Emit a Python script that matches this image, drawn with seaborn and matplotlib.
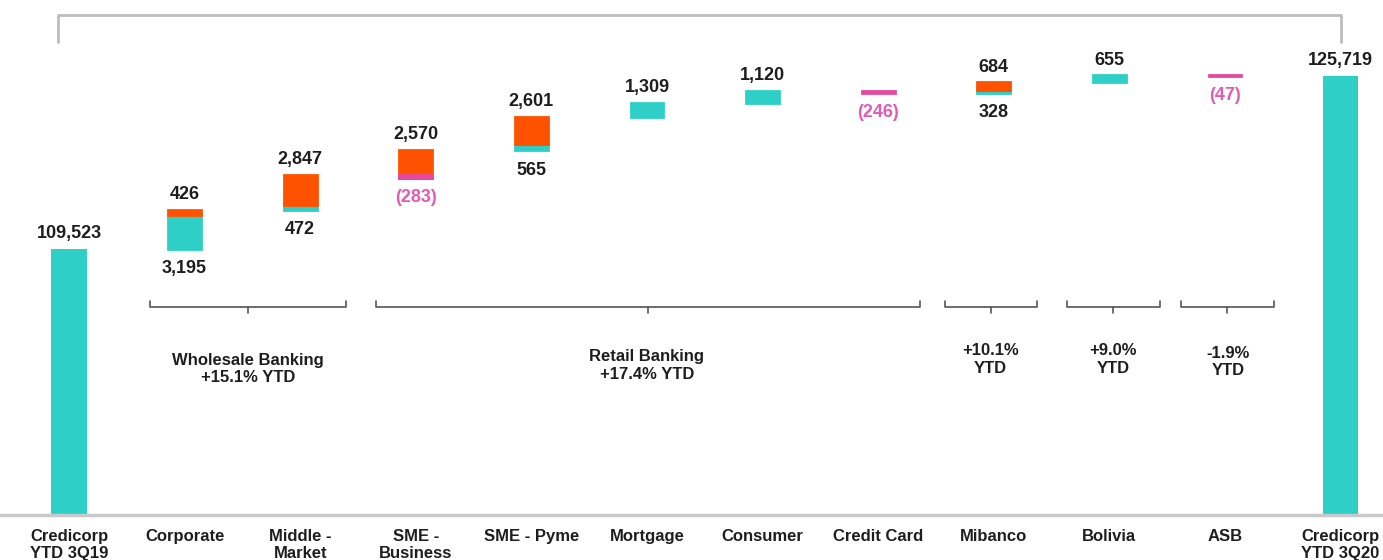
import pandas as pd
import seaborn as sns
import matplotlib.pyplot as plt
import matplotlib.transforms as mtransforms

categories = ['Credicorp\nYTD 3Q19', 'Corporate', 'Middle -\nMarket', 'SME -\nBusiness', 'SME - Pyme',
              'Mortgage', 'Consumer', 'Credit Card', 'Mibanco', 'Bolivia', 'ASB', 'Credicorp\nYTD 3Q20']
start_total = 109523
end_total = 125719
# variations for Corporate .. ASB
teal_vals = [3195, 472, 0, 565, 1309, 1120, 0, 328, 655, 0]
orange_vals = [426, 2847, 2570, 2601, 0, 0, 0, 684, 0, 0]
pink_vals = [0, 0, -283, 0, 0, 0, -246, 0, 0, -47]

groups = ['Wholesale Banking\n+15.1% YTD', 'Retail Banking\n+17.4% YTD', '+10.1%\nYTD', '+9.0%\nYTD', '-1.9%\nYTD']

TEAL = '#2ECFC6'
ORANGE = '#FF5200'
PINK = '#E5489E'
PINK_TXT = '#E15BB3'
DARK = '#1E1E1E'

sns.set_style('white')
plt.rcParams['font.family'] = ['Liberation Sans', 'DejaVu Sans']

# build floating segments
rows = []
labels = []  # (x, y, text, above, color)
level = start_total
for i, (t, o, p) in enumerate(zip(teal_vals, orange_vals, pink_vals)):
    cat = categories[i + 1]
    if p:
        rows.append(('pink', cat, -p, level + p))
        labels.append((i + 1, level + p, '({:,})'.format(-p), False, PINK_TXT))
        level += p
    if t:
        rows.append(('teal', cat, t, level))
        if o:
            labels.append((i + 1, level, '{:,}'.format(t), False, DARK))
        level += t
    if o:
        rows.append(('orange', cat, o, level))
        level += o
    if o:
        labels.append((i + 1, level, '{:,}'.format(o), True, DARK))
    elif t:
        labels.append((i + 1, level, '{:,}'.format(t), True, DARK))
seg = pd.DataFrame(rows, columns=['kind', 'cat', 'height', 'low'])
seg['pos'] = seg['cat'].map({c: k for k, c in enumerate(categories)})
seg = seg.sort_values('pos')

totals = pd.DataFrame({'cat': [categories[0], categories[-1]], 'height': [start_total, end_total]})

fig = plt.figure(figsize=(13.83, 5.6), dpi=100)
ax = fig.add_axes([0, 1 - 515 / 560, 1, 515 / 560])

sns.barplot(data=totals, x='cat', y='height', order=categories, color=TEAL, saturation=1,
            width=0.31, errorbar=None, linewidth=0, ax=ax)
for kind, col in [('teal', TEAL), ('orange', ORANGE), ('pink', PINK)]:
    d = seg[seg['kind'] == kind]
    sns.barplot(data=d, x='cat', y='height', order=categories, color=col, saturation=1,
                width=0.285, errorbar=None, bottom=d['low'].values, edgecolor=col,
                linewidth=2, ax=ax)

labels.append((0, start_total, '{:,}'.format(start_total), True, DARK))
labels.append((11, end_total, '{:,}'.format(end_total), True, DARK))
for x, y, txt, above, col in labels:
    ax.annotate(txt, (x, y), xytext=(0, 5 if above else -8), textcoords='offset points',
                ha='center', va='bottom' if above else 'top', fontsize=13,
                fontweight='bold', color=col)

ax.set_xlim(-0.597, 11.367)
ax.set_ylim(84625, 132829)
ax.set_xlabel('')
ax.set_ylabel('')
ax.set_yticks([])
ax.tick_params(axis='x', length=0, pad=10)
for lab in ax.get_xticklabels():
    lab.set_fontsize(12)
    lab.set_fontweight('bold')
    lab.set_color(DARK)
    lab.set_linespacing(1.15)
for s in ['top', 'left', 'right']:
    ax.spines[s].set_visible(False)
ax.spines['bottom'].set_color('#C9C9C9')
ax.spines['bottom'].set_linewidth(2.5)

trans = mtransforms.blended_transform_factory(ax.transData, ax.transAxes)

# top bracket over the whole bridge
ax.plot([-0.095, -0.095, 11.0, 11.0], [0.918, 0.971, 0.971, 0.918], color='#BDBDBD',
        lw=2, transform=trans, clip_on=False, solid_joinstyle='round')

# group brackets
spans = [(0.70, 2.40), (2.66, 7.36), (7.58, 8.37), (8.63, 9.44), (9.62, 10.42)]
text_x = [1.55, 5.0, 7.97, 9.03, 10.03]
text_y = [0.283, 0.29, 0.302, 0.302, 0.297]
for (a, b), g, tx, ty in zip(spans, groups, text_x, text_y):
    m = (a + b) / 2
    ax.plot([a, a, b, b], [0.416, 0.404, 0.404, 0.416], color='#555555', lw=1.2,
            transform=trans, clip_on=False)
    ax.plot([m, m], [0.404, 0.392], color='#555555', lw=1.2, transform=trans, clip_on=False)
    ax.text(tx, ty, g, transform=trans, ha='center', va='center', fontsize=12,
            fontweight='bold', color=DARK, linespacing=1.2)

fig.savefig('out.png', dpi=100)
